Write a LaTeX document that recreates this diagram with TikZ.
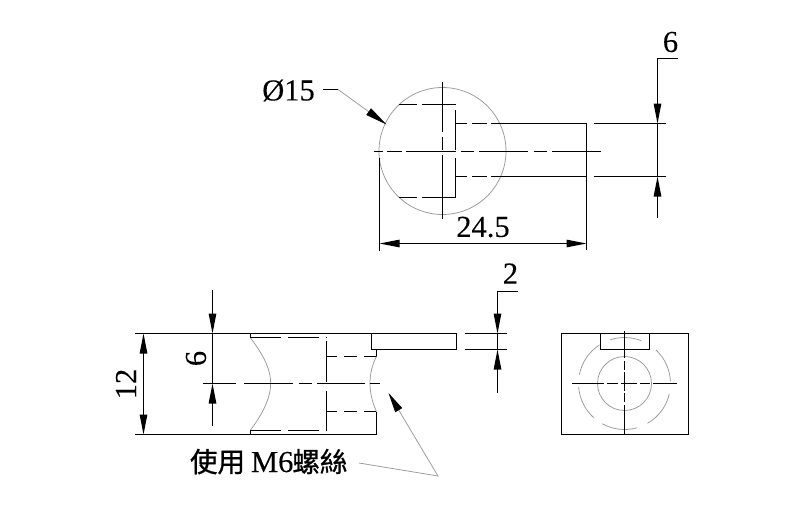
\documentclass[tikz,border=0pt]{standalone}
\usepackage{fontspec}
\setmainfont{Liberation Serif}[FakeBold=0.15]
\newfontfamily\cjk{Noto Sans CJK TC}[FakeBold=0.9]
\usetikzlibrary{arrows.meta,calc}
\tikzset{
  partline/.style={draw=black,line width=1.05pt},
  thinline/.style={draw=black!40,line width=0.75pt},
  dimtip/.tip={Triangle[length=20pt,width=7.5pt,color=black]},
  dimlabel/.style={inner sep=0pt,font=\fontsize{30.5}{32}\selectfont}
}
\begin{document}
\begin{tikzpicture}[x=1pt,y=-1pt,every path/.style={partline}]
\useasboundingbox[draw=none] (0,0) rectangle (789,515);

% top view
\draw[thinline] (442.5,151) circle (63.5);
\foreach \y in {104.5,197.5}
  \draw[dash pattern=on 18pt off 5pt on 34pt off 10pt] (399,\y) -- (456,\y);
\draw (455.5,110) -- (455.5,150) (455.5,158) -- (455.5,198);
\foreach \y in {123.5,176.5}
{
  \draw[dash pattern=on 11pt off 5pt on 15pt off 4pt on 200pt off 1pt] (456,\y) -- (586.5,\y);
  \draw (594,\y) -- (666,\y);
}
\draw[dash pattern=on 9pt off 4pt on 15pt off 4pt on 50pt off 5pt on 13pt off 5pt on 49pt off 6pt on 13pt off 5pt on 49pt off 1pt]
  (374,151.5) -- (601,151.5);
\draw[dash pattern=on 50pt off 5pt on 13pt off 5pt on 64pt off 1pt] (442.5,82) -- (442.5,219);

% dimensions of the top view
\draw (586.5,123) -- (586.5,250);
\draw (379.5,158) -- (379.5,251);
\draw[{dimtip}-{dimtip}] (379.5,243.5) -- (586.5,243.5);
\node (len) [dimlabel] at (483,227) {24.5};
\node (dia) [dimlabel] at (288.5,90.5) {Ø15};
\coordinate (diaknee) at (338,89.5);
\coordinate (diatip) at (386.5,124.5);
\draw (323,89.5) -- (diaknee);
\draw[thinline,-{Triangle[length=22pt,width=8pt,color=black]}] (diaknee) -- (diatip);
\draw[-{dimtip}] (678,58.5) -- (657.5,58.5) -- (657.5,123.5);
\draw (657.5,123.5) -- (657.5,176.5);
\draw[-{dimtip}] (657.5,218) -- (657.5,176.5);
\node (wid) [dimlabel] at (670.5,42) {6};

% side view
\draw (135,333.5) -- (456.5,333.5) -- (456.5,349.5) -- (371.5,349.5) -- (371.5,333.5);
\draw (135,434.5) -- (376.5,434.5) -- (376.5,411.5);
\draw (376.5,349.5) -- (376.5,356.5);
\draw (250.5,333.5) -- (250.5,338) (250.5,430) -- (250.5,434.5);
\draw[thinline] (250.5,338) .. controls (262,353) and (270.7,368) .. (270.7,383.5)
  .. controls (270.7,398) and (262,415) .. (250.5,430);
\draw[thinline] (376.5,356.5) .. controls (372,365) and (370,374) .. (370,383.5)
  .. controls (370,392) and (372,402) .. (376.5,411.5);
\foreach \y in {337.5,430.5}
  \draw[dash pattern=on 31pt off 7pt on 31pt off 7pt on 1pt off 5pt] (250,\y) -- (327,\y);
\foreach \y in {356.5,411.5}
  \draw[dash pattern=on 11pt off 7pt on 13pt off 7pt on 12pt off 5pt] (326,\y) -- (376.5,\y);
\draw (326.5,336.5) -- (326.5,338) (326.5,341) -- (326.5,382) (326.5,391) -- (326.5,431);
\draw[dash pattern=on 33pt off 8pt on 49pt off 6pt on 13pt off 5pt on 48pt off 5pt on 10pt off 1pt]
  (203,383.5) -- (380,383.5);

% dimensions of the side view
\draw[{dimtip}-{dimtip}] (143.5,333.5) -- (143.5,434.5);
\node (hgt) [dimlabel,rotate=90] at (126,384) {12};
\draw[-{dimtip}] (212.5,290) -- (212.5,333.5);
\draw (212.5,333.5) -- (212.5,383.5);
\draw[-{dimtip}] (212.5,426) -- (212.5,383.5);
\node (mid) [dimlabel,rotate=90] at (196,358.5) {6};
\foreach \y in {333.5,349.5}
  \draw (465,\y) -- (507,\y);
\draw[-{dimtip}] (518,291.5) -- (497.5,291.5) -- (497.5,333.5);
\draw (497.5,333.5) -- (497.5,349.5);
\draw[-{dimtip}] (497.5,393) -- (497.5,349.5);
\node (lip) [dimlabel] at (510.5,273.5) {2};

% thread note
\node (note) [dimlabel,anchor=base west] at (189.5,472)
 {{\fontsize{27.5}{30}\cjk 使用}\hspace{6pt}M6\hspace{-1pt}{\fontsize{27.5}{30}\cjk 螺絲}};
\coordinate (noteknee) at (438,476);
\coordinate (noteend) at (359,463);
\coordinate (notetip) at (388.5,393);
\draw[thinline,-{Triangle[length=20pt,width=8pt,color=black]}] (noteend) -- (noteknee) -- (notetip);

% end view
\draw (561.5,333.5) rectangle (688.5,434.5);
\draw (600.5,333.5) -- (600.5,349.5) -- (649.5,349.5) -- (649.5,333.5);
\draw[thinline] (624.5,383.5) circle (27);
\foreach \a/\b in {68.5/108,123/169,184.5/228,241/285.6,300/347,3/47}
  \draw[thinline] (624.5,383.5) ++(\a:46 and -46) arc[start angle=\a,end angle=\b,x radius=46,y radius=-46];
\draw[dash pattern=on 32pt off 3pt on 11pt off 3pt on 16pt off 3pt on 10pt off 3pt on 24pt off 1pt]
  (572,383.5) -- (677,383.5);
\draw[dash pattern=on 27pt off 3pt on 9pt off 2pt on 19pt off 2pt on 9pt off 3pt on 30pt off 1pt]
  (624.5,331) -- (624.5,435);
\end{tikzpicture}
\end{document}
